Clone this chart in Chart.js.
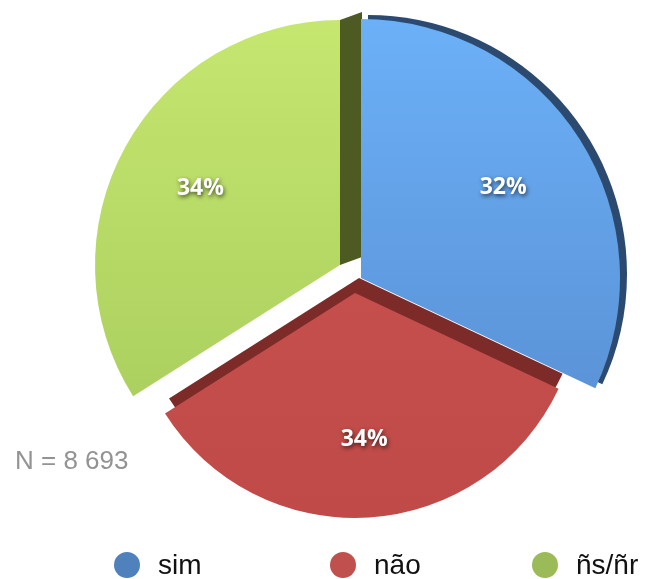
<!DOCTYPE html>
<html>
<head>
<meta charset="utf-8">
<script src="https://cdn.jsdelivr.net/npm/chart.js@4.4.1/dist/chart.umd.min.js"></script>
<style>
  html, body { margin: 0; padding: 0; background: #fff; }
  #wrap { position: relative; width: 648px; height: 579px; }
  #legend { position: absolute; left: 0; top: 549px; width: 648px; height: 31px;
            font-family: "Liberation Sans", Arial, sans-serif; font-size: 28px; color: #111; }
  .item { position: absolute; top: 0; height: 31px; display: flex; align-items: center; }
  .dot { width: 26px; height: 26px; border-radius: 50%; margin-right: 18px; }
</style>
</head>
<body>
<div id="wrap">
  <canvas id="pie" width="648" height="579"></canvas>
  <div id="legend"></div>
</div>
<script>
// data
const labels = ['sim', 'não', 'ñs/ñr'];
const values = [32, 34, 34];
const sampleSize = 'N = 8 693';

// colours (face gradient top / bottom, side face, legend)
const faceTop = ['#6cb1f8', '#cd5552', '#c6e770'];
const faceBottom = ['#5589cc', '#bf4a47', '#a4c95a'];
const sideColors = ['#2c4a70', '#7d2b29', '#4d5b23'];
const legendColors = ['#4f81bd', '#c0504d', '#9bbb59'];

// fake 3d look: per slice radius, explode shift and side face offset
const radius = [259, 225, 245];
const explode = [[0, 0], [-6, 15], [-21, -13]];
const depth = [[7, -4], [4, -15], [22, -8]];
const sideMode = ['arc', 'arc', 'edge'];   // edge = only the cut face at the slice end
const legendLeft = [114, 330, 532];

// helper: build legend in html
function buildLegend() {
    var html = [];
    labels.forEach(function (l, i) {
        html.push(`<div class="item" style="left:${legendLeft[i]}px"><span class="dot" style="background:${legendColors[i]}"></span>${l}</div>`);
    });
    document.getElementById('legend').innerHTML = html.join('');
}
buildLegend();

const pie3d = {
    id: 'pie3d',
    afterDatasetUpdate(chart) {
        chart.getDatasetMeta(0).data.forEach((arc, i) => {
            arc.x += explode[i][0];
            arc.y += explode[i][1];
            arc.outerRadius = radius[i];
        });
    },
    beforeDatasetsDraw(chart) {
        const ctx = chart.ctx;
        chart.getDatasetMeta(0).data.forEach((arc, i) => {
            const dx = depth[i][0], dy = depth[i][1];
            ctx.save();
            ctx.fillStyle = sideColors[i];
            ctx.beginPath();
            if (sideMode[i] === 'edge') {
                const ex = arc.x + Math.cos(arc.endAngle) * arc.outerRadius;
                const ey = arc.y + Math.sin(arc.endAngle) * arc.outerRadius;
                ctx.moveTo(arc.x, arc.y);
                ctx.lineTo(ex, ey);
                ctx.lineTo(ex + dx, ey + dy);
                ctx.lineTo(arc.x + dx, arc.y + dy);
            } else {
                ctx.moveTo(arc.x + dx, arc.y + dy);
                ctx.arc(arc.x + dx, arc.y + dy, arc.outerRadius, arc.startAngle, arc.endAngle);
            }
            ctx.closePath();
            ctx.fill();
            ctx.restore();
        });
    },
    afterDatasetsDraw(chart) {
        const ctx = chart.ctx;
        const total = values.reduce((a, b) => a + b, 0);
        chart.getDatasetMeta(0).data.forEach((arc, i) => {
            const mid = (arc.startAngle + arc.endAngle) / 2;
            const r = arc.outerRadius * 0.65;
            ctx.save();
            ctx.font = 'bold 23px "Open Sans"';
            ctx.fillStyle = '#fff';
            ctx.textAlign = 'center';
            ctx.textBaseline = 'middle';
            ctx.shadowColor = 'rgba(0,0,0,0.65)';
            ctx.shadowBlur = 4;
            ctx.shadowOffsetX = 1;
            ctx.shadowOffsetY = 2;
            ctx.fillText(Math.round(values[i] / total * 100) + '%', arc.x + Math.cos(mid) * r, arc.y + Math.sin(mid) * r);
            ctx.restore();
        });
        ctx.save();
        ctx.font = '26px "Liberation Sans"';
        ctx.fillStyle = '#939393';
        ctx.textBaseline = 'alphabetic';
        ctx.fillText(sampleSize, 15, 469);
        ctx.restore();
    }
};

new Chart(document.getElementById('pie'), {
    type: 'pie',
    data: {
        labels: labels,
        datasets: [{
            data: values,
            backgroundColor: function (c) {
                const area = c.chart.chartArea;
                if (!area) return faceTop[c.dataIndex];
                const g = c.chart.ctx.createLinearGradient(0, 10, 0, 520);
                g.addColorStop(0, faceTop[c.dataIndex]);
                g.addColorStop(1, faceBottom[c.dataIndex]);
                return g;
            },
            borderWidth: 0,
            clip: false
        }]
    },
    options: {
        responsive: false,
        animation: false,
        layout: { padding: { left: 74, right: 0, top: 0, bottom: 23 } },
        plugins: {
            legend: { display: false },
            tooltip: { enabled: false }
        }
    },
    plugins: [pie3d]
});
</script>
</body>
</html>
